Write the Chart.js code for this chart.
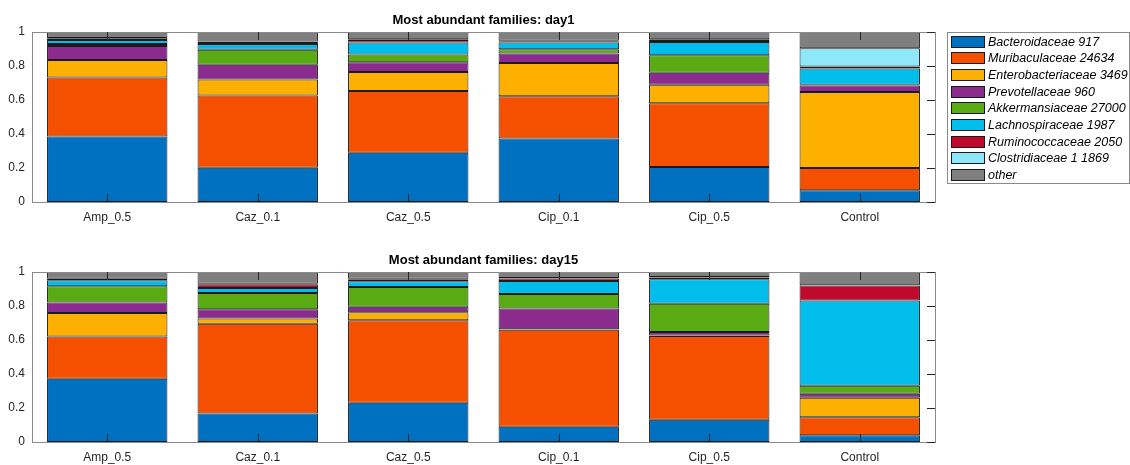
<!DOCTYPE html>
<html><head><meta charset="utf-8">
<script src="https://cdn.jsdelivr.net/npm/chart.js@4/dist/chart.umd.min.js"></script>
<style>
html,body{margin:0;padding:0;background:#fff;overflow:hidden;width:1130px;height:465px;}
canvas{position:absolute;left:0;}
#c1{top:0;} #c2{top:240px;}
</style></head>
<body>
<canvas id="c1" width="1130" height="232"></canvas>
<canvas id="c2" width="1130" height="232"></canvas>
<script>
const categories = ['Amp_0.5','Caz_0.1','Caz_0.5','Cip_0.1','Cip_0.5','Control'];
const families = ['Bacteroidaceae 917','Muribaculaceae 24634','Enterobacteriaceae 3469','Prevotellaceae 960','Akkermansiaceae 27000','Lachnospiraceae 1987','Ruminococcaceae 2050','Clostridiaceae 1 1869','other'];
const colors = ['#0070C0','#F55000','#FDB000','#8B2B8D','#5AAA14','#00BDEB','#C00A2D','#8EE8FA','#7F7F7F'];
const yTicks = [0,0.2,0.4,0.6,0.8,1];

// day 1
const d1_bacteroidaceae = [0.385,0.202,0.290,0.373,0.206,0.069];
const d1_muribaculaceae = [0.347,0.424,0.363,0.249,0.375,0.131];
const d1_enterobacteriaceae = [0.103,0.094,0.112,0.196,0.109,0.447];
const d1_prevotellaceae = [0.083,0.088,0.057,0.055,0.071,0.038];
const d1_akkermansiaceae = [0.011,0.088,0.045,0.025,0.102,0.005];
const d1_lachnospiraceae = [0.024,0.033,0.071,0.040,0.078,0.095];
const d1_ruminococcaceae = [0.008,0.012,0.015,0.008,0.012,0.012];
const d1_clostridiaceae = [0.004,0.003,0.004,0.003,0.004,0.108];
const d1_other = [0.035,0.056,0.043,0.051,0.043,0.095];

// day 15
const d15_bacteroidaceae = [0.372,0.167,0.231,0.090,0.131,0.039];
const d15_muribaculaceae = [0.248,0.528,0.485,0.570,0.492,0.106];
const d15_enterobacteriaceae = [0.139,0.031,0.047,0.003,0.004,0.115];
const d15_prevotellaceae = [0.061,0.055,0.033,0.122,0.020,0.024];
const d15_akkermansiaceae = [0.096,0.096,0.116,0.086,0.166,0.047];
const d15_lachnospiraceae = [0.035,0.029,0.033,0.076,0.145,0.502];
const d15_ruminococcaceae = [0.008,0.022,0.012,0.015,0.010,0.087];
const d15_clostridiaceae = [0.002,0.003,0.003,0.003,0.003,0.002];
const d15_other = [0.039,0.069,0.040,0.035,0.029,0.078];

const day1 = [d1_bacteroidaceae,d1_muribaculaceae,d1_enterobacteriaceae,d1_prevotellaceae,d1_akkermansiaceae,d1_lachnospiraceae,d1_ruminococcaceae,d1_clostridiaceae,d1_other];
const day15 = [d15_bacteroidaceae,d15_muribaculaceae,d15_enterobacteriaceae,d15_prevotellaceae,d15_akkermansiaceae,d15_lachnospiraceae,d15_ruminococcaceae,d15_clostridiaceae,d15_other];

Chart.defaults.font.family = '"Liberation Sans", Arial, sans-serif';
Chart.defaults.font.size = 12;
Chart.defaults.color = '#262626';

const FONT = '"Liberation Sans", Arial, sans-serif';

function axesBox(title){
  return {
    id:'axesBox',
    afterDatasetsDraw(chart){
      const {ctx, chartArea:a, scales} = chart;
      ctx.save();
      // box
      ctx.strokeStyle = '#8a8a8a'; ctx.lineWidth = 1;
      ctx.strokeRect(Math.round(a.left)+0.5, Math.round(a.top)+0.5, Math.round(a.right-a.left), Math.round(a.bottom-a.top));
      // ticks
      ctx.strokeStyle = '#262626';
      ctx.beginPath();
      const x = scales.x, y = scales.y;
      categories.forEach((c,i)=>{
        const px = Math.round(x.getPixelForValue(i))+0.5;
        ctx.moveTo(px, a.bottom); ctx.lineTo(px, a.bottom-8);
        ctx.moveTo(px, a.top); ctx.lineTo(px, a.top+8);
      });
      yTicks.forEach(v=>{
        const py = Math.round(y.getPixelForValue(v))+0.5;
        ctx.moveTo(a.right, py); ctx.lineTo(a.right-8, py);
      });
      ctx.stroke();
      // title
      ctx.fillStyle = '#000';
      ctx.font = 'bold 13px ' + FONT;
      ctx.textAlign = 'center'; ctx.textBaseline = 'alphabetic';
      ctx.fillText(title, (a.left+a.right)/2, a.top - 8);
      ctx.restore();
    }
  };
}

const legendPlugin = {
  id:'sideLegend',
  afterDraw(chart){
    const ctx = chart.ctx;
    ctx.save();
    const left = 947, top = 32, w = 182, h = 151;
    ctx.fillStyle = '#fff';
    ctx.fillRect(left, top, w, h);
    ctx.strokeStyle = '#8a8a8a'; ctx.lineWidth = 1;
    ctx.strokeRect(left+0.5, top+0.5, w, h);
    ctx.font = 'italic 12.5px ' + FONT;
    ctx.textAlign = 'left'; ctx.textBaseline = 'middle';
    families.forEach((f,i)=>{
      const cy = top + 9.7 + i*16.67;
      ctx.fillStyle = colors[i];
      ctx.fillRect(951, Math.round(cy-6), 34, 12);
      ctx.strokeStyle = '#1a1a1a';
      ctx.strokeRect(951.5, Math.round(cy-6)+0.5, 33, 11);
      ctx.fillStyle = '#000';
      ctx.fillText(f, 988, cy+0.5);
    });
    ctx.restore();
  }
};

function makeChart(id, data, title, withLegend){
  const datasets = families.map((f,i)=>({
    label:f, data:data[i], backgroundColor:colors[i],
    borderColor:'#1a1a1a', borderWidth:1, borderSkipped:false,
    barPercentage:0.8, categoryPercentage:1
  }));
  const plugins = [axesBox(title)];
  if (withLegend) plugins.push(legendPlugin);
  return new Chart(document.getElementById(id), {
    type:'bar',
    data:{labels:categories, datasets},
    options:{
      responsive:false, animation:false, devicePixelRatio:1,
      layout:{padding:{left:0,right:195,top:32,bottom:0}},
      plugins:{legend:{display:false}, title:{display:false}, tooltip:{enabled:false}},
      scales:{
        x:{stacked:true, grid:{display:false, drawTicks:false}, border:{display:false},
           ticks:{padding:8, font:{size:12}, color:'#262626', maxRotation:0},
           afterFit(s){ s.height = 30; }},
        y:{stacked:true, min:0, max:1, grid:{display:false, drawTicks:false}, border:{display:false},
           afterBuildTicks(s){ s.ticks = yTicks.map(v=>({value:v})); },
           ticks:{padding:7, font:{size:12}, color:'#262626',
             callback:(v)=> (v===0?'0':(v===1?'1':Number(v).toFixed(1)))},
           afterFit(s){ s.width = 32; }}
      }
    },
    plugins
  });
}

makeChart('c1', day1, 'Most abundant families: day1', true);
makeChart('c2', day15, 'Most abundant families: day15', false);
</script>
</body></html>
